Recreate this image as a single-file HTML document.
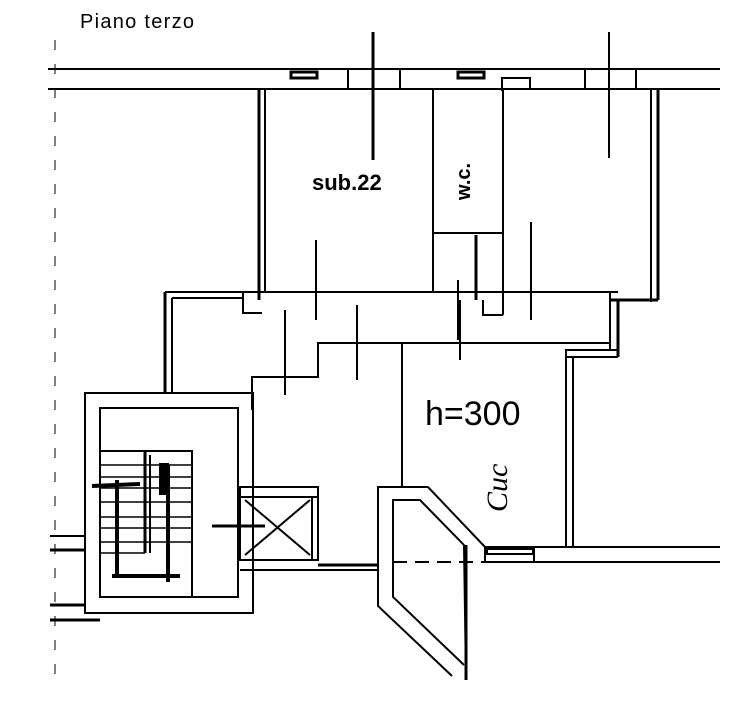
<!DOCTYPE html>
<html><head><style>
html,body{margin:0;padding:0;background:#fff;overflow:hidden;}
svg{display:block}
</style></head><body>
<svg width="754" height="728" viewBox="0 0 754 728" xmlns="http://www.w3.org/2000/svg">
<text x="80" y="28" font-family="Liberation Sans, sans-serif" font-size="20" fill="#000" textLength="114">Piano terzo</text>
<g stroke="#000" fill="none" stroke-width="2">
<line x1="55" y1="40" x2="55" y2="680" stroke-width="1" stroke-dasharray="10,14"/>
<line x1="48" y1="69" x2="720" y2="69"/>
<line x1="48" y1="89" x2="720" y2="89"/>
<rect x="291" y="72" width="26" height="6" stroke-width="3"/>
<rect x="458" y="72" width="26" height="6" stroke-width="3"/>
<polyline points="502,91 502,78 530,78 530,89"/>
<line x1="373" y1="32" x2="373" y2="160" stroke-width="3"/>
<line x1="609" y1="32" x2="609" y2="158"/>
<line x1="400" y1="70" x2="400" y2="89"/>
<line x1="348" y1="70" x2="348" y2="89"/>
<line x1="585" y1="70" x2="585" y2="89"/>
<line x1="636" y1="70" x2="636" y2="89"/>
<line x1="259" y1="89" x2="259" y2="300" stroke-width="3"/>
<line x1="265" y1="89" x2="265" y2="292"/>
<line x1="651" y1="89" x2="651" y2="302" stroke-width="2"/>
<line x1="658" y1="89" x2="658" y2="300" stroke-width="3"/>
<polyline points="610,300 658,300" stroke-width="3"/>
<line x1="433" y1="89" x2="433" y2="292"/>
<line x1="503" y1="89" x2="503" y2="315"/>
<line x1="433" y1="233" x2="503" y2="233"/>
<line x1="476" y1="235" x2="476" y2="300" stroke-width="3"/>
<line x1="531" y1="222" x2="531" y2="320"/>
<line x1="316" y1="240" x2="316" y2="320"/>
<line x1="458" y1="280" x2="458" y2="340"/>
<line x1="165" y1="292" x2="618" y2="292"/>
<line x1="172" y1="298" x2="243" y2="298"/>
<polyline points="243,293 243,313 262,313"/>
<polyline points="483,300 483,315 503,315"/>
<line x1="165" y1="292" x2="165" y2="393" stroke-width="3"/>
<line x1="172" y1="298" x2="172" y2="393"/>
<polyline points="252,410 252,377 318,377 318,343 610,343" stroke-width="2"/>
<line x1="285" y1="310" x2="285" y2="395"/>
<line x1="357" y1="305" x2="357" y2="380"/>
<line x1="402" y1="343" x2="402" y2="487"/>
<line x1="460" y1="300" x2="460" y2="360"/>
<line x1="610" y1="292" x2="610" y2="350" stroke-width="2"/>
<line x1="618" y1="300" x2="618" y2="357" stroke-width="3"/>
<line x1="565" y1="350" x2="618" y2="350"/>
<line x1="565" y1="357" x2="618" y2="357"/>
<line x1="566" y1="350" x2="566" y2="547"/>
<line x1="573" y1="357" x2="573" y2="547" stroke-width="2"/>
<line x1="485" y1="547" x2="720" y2="547"/>
<line x1="485" y1="562" x2="720" y2="562"/>
<rect x="487" y="549" width="46" height="5" stroke-width="2"/>
<line x1="534" y1="547" x2="534" y2="562"/>
<line x1="485" y1="547" x2="485" y2="562"/>
<rect x="85" y="393" width="168" height="220"/>
<rect x="100" y="408" width="138" height="189"/>
<polyline points="100,451 192,451 192,597"/>
<line x1="145" y1="451" x2="145" y2="553" stroke-width="3"/>
<line x1="150" y1="455" x2="150" y2="553"/>
<g stroke-width="1.5">
<line x1="100" y1="465" x2="192" y2="465"/>
<line x1="100" y1="477" x2="192" y2="477"/>
<line x1="100" y1="488" x2="192" y2="488"/>
<line x1="100" y1="502" x2="192" y2="502"/>
<line x1="100" y1="517" x2="192" y2="517"/>
<line x1="100" y1="528" x2="192" y2="528"/>
<line x1="100" y1="542" x2="192" y2="542"/>
<line x1="100" y1="553" x2="145" y2="553"/>
</g>
<g stroke-width="4">
<line x1="92" y1="486" x2="140" y2="484"/>
<line x1="117" y1="480" x2="117" y2="578"/>
<line x1="112" y1="576" x2="180" y2="576"/>
<line x1="168" y1="465" x2="168" y2="582"/>
<rect x="161" y="465" width="6" height="28" fill="#000"/>
</g>
<line x1="212" y1="526" x2="265" y2="526" stroke-width="3"/>
<line x1="50" y1="536" x2="85" y2="536"/>
<line x1="50" y1="550" x2="85" y2="550" stroke-width="3"/>
<line x1="50" y1="605" x2="85" y2="605" stroke-width="3"/>
<line x1="50" y1="620" x2="100" y2="620" stroke-width="3"/>
<rect x="240" y="487" width="78" height="73"/>
<line x1="240" y1="497" x2="318" y2="497"/>
<line x1="312" y1="497" x2="312" y2="560"/>
<line x1="245" y1="500" x2="310" y2="555"/>
<line x1="310" y1="500" x2="245" y2="555"/>
<line x1="240" y1="570" x2="378" y2="570"/>
<line x1="318" y1="565" x2="378" y2="565" stroke-width="3"/>
<polyline points="452,676 378,606 378,487 428,487 485,547"/>
<polyline points="464,665 393,597 393,500 420,500 464,545 466,680" />
<line x1="466" y1="545" x2="466" y2="680" stroke-width="3"/>
<line x1="393" y1="562" x2="485" y2="562" stroke-dasharray="14,8"/>
</g>
<text x="312" y="190" font-family="Liberation Sans, sans-serif" font-size="22" font-weight="bold" fill="#000">sub.22</text>
<text transform="translate(470,200) rotate(-90)" font-family="Liberation Sans, sans-serif" font-size="20" font-weight="bold" fill="#000">w.c.</text>
<text x="425" y="425" font-family="Liberation Sans, sans-serif" font-size="34" fill="#000">h=300</text>
<text transform="translate(507,512) rotate(-90)" font-family="Liberation Serif, serif" font-size="30" font-style="italic" fill="#000">Cuc</text>
</svg>
</body></html>
